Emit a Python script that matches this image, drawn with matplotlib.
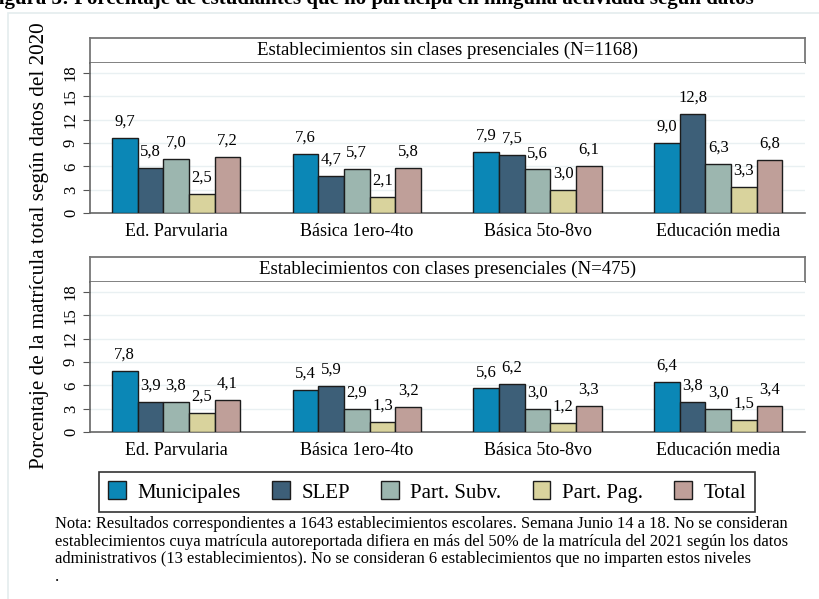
import numpy as np
import matplotlib
matplotlib.use("Agg")
import matplotlib.pyplot as plt
from matplotlib.patches import Rectangle, Patch

# 全局字体
plt.rcParams['font.family'] = ['Liberation Serif', 'DejaVu Serif']

# 数据
niveles = ['Ed. Parvularia', 'Básica 1ero-4to', 'Básica 5to-8vo', 'Educación media']
series = ['Municipales', 'SLEP', 'Part. Subv.', 'Part. Pag.', 'Total']
colores = ['#0b87b6', '#3d5f78', '#9cb6af', '#d9d39d', '#bf9f99']

sin_clases = [
    [9.7, 7.6, 7.9, 9.0],    # Municipales
    [5.8, 4.7, 7.5, 12.8],   # SLEP
    [7.0, 5.7, 5.6, 6.3],    # Part. Subv.
    [2.5, 2.1, 3.0, 3.3],    # Part. Pag.
    [7.2, 5.8, 6.1, 6.8],    # Total
]
con_clases = [
    [7.8, 5.4, 5.6, 6.4],
    [3.9, 5.9, 6.2, 3.8],
    [3.8, 2.9, 3.0, 3.0],
    [2.5, 1.3, 1.2, 1.5],
    [4.1, 3.2, 3.3, 3.4],
]
titulos = ['Establecimientos sin clases presenciales (N=1168)',
           'Establecimientos con clases presenciales (N=475)']
yticks = [0, 3, 6, 9, 12, 15, 18]

W, H = 820, 599


def px(x0, y0, x1, y1):
	"""像素坐标 -> figure 坐标"""
	return [x0 / W, 1 - y1 / H, (x1 - x0) / W, (y1 - y0) / H]


fig = plt.figure(figsize=(W / 100, H / 100), dpi=100)
fig.patch.set_facecolor('white')

# 外框（Stata graph region）
fig.add_artist(Rectangle((8 / W, -0.01), 1.0, 1 - 13 / H + 0.01, transform=fig.transFigure,
                         facecolor='white', edgecolor='#e4ecee', lw=1.2, zorder=0))

# 顶部被截断的标题
fig.text(-14 / W, 1 - 4 / H, 'Figura 3: Porcentaje de estudiantes que no participa en ninguna actividad según datos',
         fontsize=15, fontweight='bold', ha='left', va='baseline')


def draw_panel(strip_box, ax_box, data, titulo):
	# 标题条
	sx = fig.add_axes(px(*strip_box))
	sx.set_xticks([])
	sx.set_yticks([])
	for s in sx.spines.values():
		s.set_color('#777777')
		s.set_linewidth(1.3)
	sx.text(0.5, 0.5, titulo, ha='center', va='center', fontsize=13.6, transform=sx.transAxes)

	ax = fig.add_axes(px(*ax_box))
	x = np.arange(len(niveles))
	w = 0.142
	for i, (name, vals) in enumerate(zip(series, data)):
		pos = x + (i - 2) * w
		ax.bar(pos, vals, width=w, color=colores[i], edgecolor='#1c1c1c', lw=1, zorder=3)
		for xp, v in zip(pos, vals):
			ax.annotate(f"{v:.1f}".replace('.', ','), (xp, v), xytext=(0, 6),
			            textcoords='offset points', ha='center', va='bottom', fontsize=12)

	ax.set_xlim(-0.476, 3.48)
	ax.set_ylim(0, 19.3)
	ax.set_yticks(yticks)
	ax.set_yticklabels([str(t) for t in yticks], rotation=90, va='center', fontsize=12)
	ax.grid(axis='y', color='#e9f0f2', lw=1, zorder=0)
	ax.set_xticks(x)
	ax.set_xticklabels(niveles, fontsize=13)
	ax.tick_params(axis='x', length=0, pad=7)
	ax.tick_params(axis='y', length=5, color='#555555', pad=3)
	ax.spines['top'].set_visible(False)
	ax.spines['right'].set_visible(False)
	ax.spines['left'].set_color('#666666')
	ax.spines['bottom'].set_color('#666666')
	ax.spines['left'].set_linewidth(1.2)
	ax.spines['bottom'].set_linewidth(1.2)
	return ax


draw_panel((90, 38, 805, 63), (90, 63, 805, 213), sin_clases, titulos[0])
draw_panel((90, 257, 805, 282), (90, 282, 805, 432), con_clases, titulos[1])

# 纵轴标题
fig.text(40 / W, 1 - 246 / H, 'Porcentaje de la matrícula total según datos del 2020',
         rotation=90, ha='center', va='center', fontsize=15.2)

# 图例
handles = [Patch(facecolor=c, edgecolor='#1c1c1c', lw=1) for c in colores]
leg = fig.legend(handles, series, ncol=5, loc='center',
                 bbox_to_anchor=(427 / W, 1 - 492 / H), fontsize=15,
                 frameon=True, fancybox=False, edgecolor='black',
                 handlelength=0.85, handleheight=0.95, handletextpad=0.55,
                 columnspacing=1.5, borderpad=0.45)
leg.get_frame().set_linewidth(1.2)

# 注释
nota = ("Nota: Resultados correspondientes a 1643 establecimientos escolares. Semana Junio 14 a 18. No se consideran\n"
        "establecimientos cuya matrícula autoreportada difiera en más del 50% de la matrícula del 2021 según los datos\n"
        "administrativos (13 establecimientos). No se consideran 6 establecimientos que no imparten estos niveles\n"
        ".")
fig.text(55 / W, 1 - 516 / H, nota, ha='left', va='top', fontsize=11.9, linespacing=1.14)

plt.savefig('out.png', dpi=100)
plt.close()
